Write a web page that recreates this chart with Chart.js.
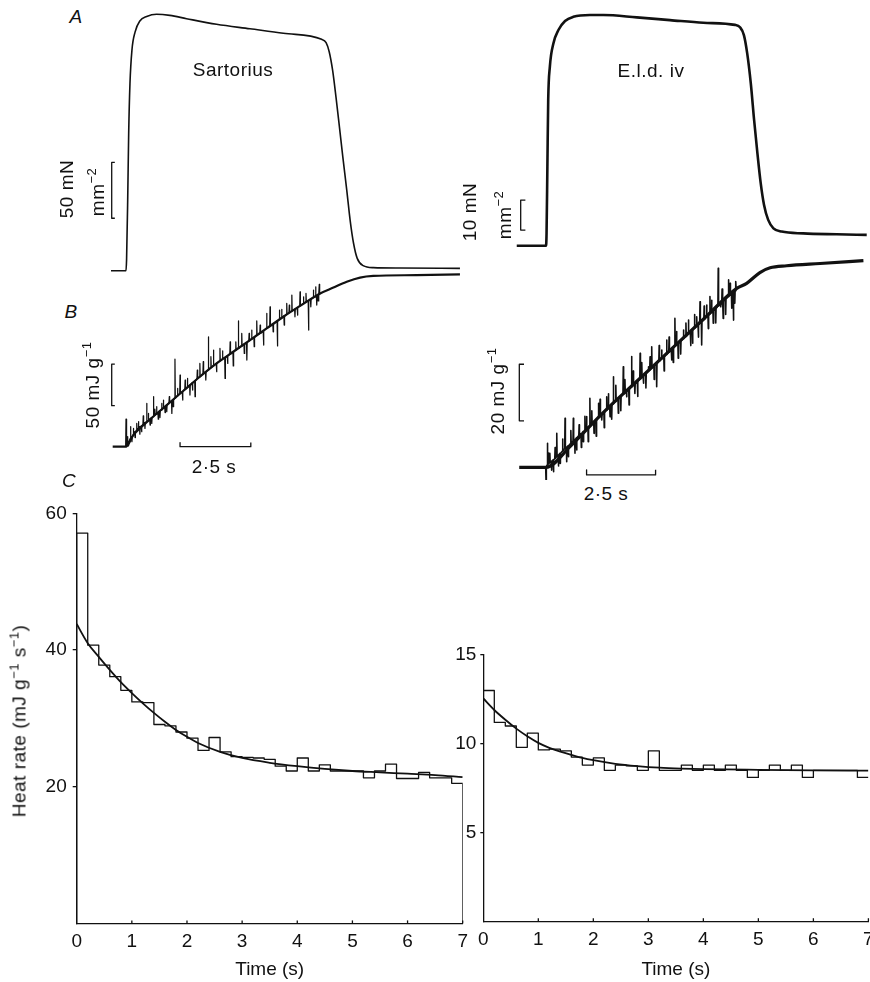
<!DOCTYPE html>
<html><head><meta charset="utf-8">
<script src="https://cdn.jsdelivr.net/npm/chart.js@4.4.0/dist/chart.umd.min.js"></script>
<style>
html,body{margin:0;padding:0;background:#fff;overflow:hidden;width:870px;height:982px;}
#wrap{position:relative;width:870px;height:982px;overflow:hidden;background:#fff;}
canvas{position:absolute;}
.lbl{position:absolute;font-family:"Liberation Sans",Arial,Helvetica,sans-serif;font-size:19px;letter-spacing:0.5px;color:#111;white-space:nowrap;line-height:1;transform:translate(-50%,-50%);}
.rot{transform:translate(-50%,-50%) rotate(-90deg);}
.it{font-style:italic;}
sup{font-size:68%;vertical-align:0.55em;line-height:0;}
</style></head>
<body><div id="wrap">
<canvas id="trL" width="370" height="480" style="left:100px;top:0;width:370px;height:480px"></canvas>
<canvas id="trR" width="390" height="480" style="left:490px;top:0;width:390px;height:480px"></canvas>
<canvas id="cL" width="470" height="492" style="left:0;top:490px;width:470px;height:492px"></canvas>
<canvas id="cR" width="440" height="382" style="left:440px;top:600px;width:440px;height:382px"></canvas>

<div class="lbl it" style="left:76px;top:16px">A</div>
<div class="lbl it" style="left:71px;top:311px">B</div>
<div class="lbl it" style="left:69px;top:480px">C</div>
<div class="lbl" style="left:233px;top:69px">Sartorius</div>
<div class="lbl" style="left:651px;top:70px">E.l.d. iv</div>
<div class="lbl rot" style="left:66px;top:189px">50 mN</div>
<div class="lbl rot" style="left:97px;top:192px">mm<sup>−2</sup></div>
<div class="lbl rot" style="left:469px;top:212px">10 mN</div>
<div class="lbl rot" style="left:504px;top:215px">mm<sup>−2</sup></div>
<div class="lbl rot" style="left:92px;top:385px">50 mJ g<sup>−1</sup></div>
<div class="lbl rot" style="left:497px;top:391px">20 mJ g<sup>−1</sup></div>
<div class="lbl" style="left:214px;top:466px">2·5 s</div>
<div class="lbl" style="left:606px;top:493px">2·5 s</div>
<div class="lbl rot" style="left:19px;top:721px">Heat rate (mJ g<sup>−1</sup> s<sup>−1</sup>)</div>
</div>
<script>
// ---------------- DATA ----------------
// Panel A: force (mN mm^-2) vs time (s) from stimulus onset
const sartForceT = [-0.53,0,0.02,0.06,0.095,0.14,0.21,0.32,0.49,0.73,1.08,1.55,2.14,3.2,4.38,5.56,6.91,7.07,7.18,7.3,7.42,7.54,7.66,7.8,7.92,8.04,8.17,8.38,8.74,9.68,11.8];
const sartForceF = [0,0,9.5,63,123,167,197,213,223,227,229,228,225,220,216,212,206.6,203.6,195.5,179,155,128.6,101.8,72,45,24.5,11,4.5,2.7,2.4,2.1];
const eldForceT = [-1.06,0,0.02,0.05,0.08,0.14,0.27,0.45,0.69,0.99,1.59,2.08,3.29,4.49,5.7,6.85,7.03,7.17,7.29,7.42,7.54,7.66,7.78,7.9,8.05,8.24,8.54,9.32,10.53,11.62];
const eldForceF = [0,0,4.1,26.3,48.6,59.7,67.5,71.9,74.9,76.3,76.9,76.9,76.1,75.2,74.3,73.6,72.8,70.2,64.1,54.1,41.9,30.8,20.8,13.6,8.6,5.8,4.7,4.1,3.8,3.6];

// Panel B: heat (mJ g^-1) vs time (s) – mean trace
const sartHeatT = [-0.47,0,0.26,0.85,1.44,2.02,2.61,3.2,3.79,4.38,4.97,5.56,6.15,6.86,7.33,7.8,8.27,8.74,10.27,11.8];
const sartHeatH = [0,0,14,32.9,50,66.9,84,100,114,128,142,156,169,184,191,198,203,205,206,207];
const eldHeatT = [-0.97,0,0.87,2.08,3.29,4.49,5.7,6.91,7.27,7.75,8.12,8.72,9.93,11.5];
const eldHeatH = [0,0,7.3,19.4,30.4,41.3,52.3,63.2,65,68.8,70.5,71.2,72,73];

// Panel B: noise spikes on the heat trace  [time, trace level, spike tip]
const sartHeatSpikes = [
[0.00,0,33],[0.04,2,12],[0.08,5,1],[0.16,10,24],[0.21,12,6],[0.26,14,22],[0.32,18,11],[0.38,20,28],[0.44,22,30],[0.49,24,15],[0.55,25,18],[0.61,27,37],[0.67,29,22],[0.73,30,52],[0.79,31,40],[0.85,33,26],[0.91,35,28],[0.97,36,60],[1.02,38,45],[1.08,39,48],[1.14,41,33],[1.20,43,35],[1.26,44,52],[1.32,46,56],[1.38,48,41],[1.44,50,42],[1.53,53,60],[1.62,55,40],[1.67,56,48],[1.73,58,105],[1.82,61,70],[1.91,64,86],[2.00,66,56],[2.09,69,80],[2.17,71,82],[2.26,74,62],[2.35,77,68],[2.44,79,60],[2.52,82,92],[2.61,84,100],[2.73,88,102],[2.82,90,80],[2.91,92,132],[3.00,95,108],[3.09,97,116],[3.20,100,90],[3.32,103,118],[3.41,105,115],[3.50,107,82],[3.59,109,100],[3.68,111,126],[3.79,114,97],[3.88,116,126],[3.97,118,151],[4.09,121,136],[4.18,123,112],[4.27,125,104],[4.35,127,136],[4.44,129,140],[4.53,131,120],[4.62,134,151],[4.74,136,146],[4.86,139,122],[4.97,142,160],[5.09,145,168],[5.20,147,138],[5.35,151,121],[5.42,153,164],[5.50,155,165],[5.59,157,146],[5.68,159,172],[5.77,161,170],[5.86,163,182],[5.97,165,156],[6.06,167,158],[6.15,169,186],[6.27,172,180],[6.36,174,184],[6.45,175,140],[6.53,177,168],[6.62,179,188],[6.70,180,192],[6.74,181,170],[6.79,182,175],[6.83,183,195]
];
const eldHeatSpikes = [
[0.00,0.2,-4.5],[0.05,0.8,8.5],[0.09,1.2,5],[0.14,1.6,4.9],[0.20,2.1,-1],[0.27,2.6,-1.6],[0.33,3.1,7],[0.39,3.7,12.0],[0.45,4.3,0.5],[0.51,4.9,1.4],[0.60,5.7,10],[0.69,6.6,17.3],[0.75,7.1,2],[0.81,7.6,3.7],[0.90,8.4,13],[0.99,9.3,17.3],[1.05,9.8,5],[1.11,10.4,6.1],[1.20,11.2,15],[1.28,11.9,7],[1.35,12.6,9.0],[1.41,13.1,18],[1.47,13.6,17.9],[1.53,14.2,9],[1.59,14.8,24.4],[1.66,15.5,20],[1.74,16.1,12.0],[1.82,16.8,11],[1.90,17.5,22.6],[1.96,18.0,24],[2.02,18.6,16.7],[2.11,19.4,14],[2.20,20.2,24.9],[2.26,20.7,26],[2.32,21.3,17.9],[2.38,21.9,17],[2.44,22.5,32.0],[2.53,23.3,29],[2.62,24.1,19.1],[2.71,25.0,20],[2.80,25.8,35.5],[2.86,26.3,31],[2.92,26.9,24.9],[3.01,27.7,22],[3.10,28.5,39.1],[3.16,29.0,34],[3.22,29.5,26.1],[3.32,30.3,25],[3.41,31.2,40.3],[3.47,31.7,37],[3.53,32.3,29.7],[3.62,33.1,28],[3.71,33.9,35.5],[3.77,34.5,39],[3.83,35.1,42.6],[3.92,35.9,31],[4.01,36.7,28.5],[4.10,37.5,43],[4.19,38.3,41.4],[4.28,39.1,34],[4.37,39.9,45.0],[4.46,40.7,46],[4.55,41.6,37.9],[4.61,42.2,37],[4.67,42.8,52.6],[4.73,43.3,48],[4.79,43.8,38.5],[4.88,44.6,40],[4.98,45.4,48.5],[5.07,46.2,51],[5.16,47.1,52.0],[5.24,47.8,43],[5.31,48.5,43.8],[5.38,49.1,54],[5.46,49.8,53.2],[5.52,50.3,46],[5.58,50.9,58.5],[5.64,51.4,43.2],[5.73,52.2,57],[5.82,53.1,57.3],[5.88,53.6,49],[5.94,54.2,60.3],[6.00,54.7,59],[6.06,55.3,50.9],[6.15,56.1,51],[6.24,57.0,70.3],[6.33,57.7,56.7],[6.38,58.2,63],[6.42,58.7,52.6],[6.51,59.5,54],[6.61,60.3,66.2],[6.67,60.8,65],[6.73,61.3,56.2],[6.79,61.8,52.0],[6.84,62.3,58],[6.88,62.8,65.6]
];

// Calibration bars: [time, from, to] (vertical) / [level, fromTime, toTime] (horizontal)
const sartForceBar = [-0.505, 46.8, 96.8];   // 50 mN mm^-2
const sartHeatBar  = [-0.505, 49.2, 99.2];   // 50 mJ g^-1
const sartTimeBar  = [0, 1.91, 4.41];        // 2.5 s
const eldForceBar  = [-0.917, 5.2, 15.2];    // 10 mN mm^-2
const eldHeatBar   = [-0.967, 16.4, 36.4];   // 20 mJ g^-1
const eldTimeBar   = [-2.7, 1.47, 3.97];     // 2.5 s

// Panel C: heat rate (mJ g^-1 s^-1), 0.2 s bins starting at these times
const binStart = [0,0.2,0.4,0.6,0.8,1.0,1.2,1.4,1.6,1.8,2.0,2.2,2.4,2.6,2.8,3.0,3.2,3.4,3.6,3.8,4.0,4.2,4.4,4.6,4.8,5.0,5.2,5.4,5.6,5.8,6.0,6.2,6.4,6.6,6.8];
const binEnd = 7;
const sartRate = [57.1,40.7,37.8,36.1,34.1,32.4,32.3,29.1,28.9,28.0,27.1,25.3,27.2,25.1,24.4,24.3,24.2,24.0,23.0,22.3,24.2,22.3,23.2,22.3,22.3,22.3,21.3,22.3,23.3,21.2,21.2,22.1,21.3,21.3,20.5];
const eldRate  = [13.0,11.2,11.0,9.8,10.6,9.65,9.7,9.6,9.25,8.8,9.2,8.5,8.8,8.75,8.5,9.6,8.5,8.5,8.8,8.5,8.8,8.5,8.8,8.5,8.1,8.5,8.8,8.5,8.8,8.1,8.5,8.5,8.5,8.5,8.1];
const sartFitT = [0,0.2,0.4,0.6,0.8,1.0,1.2,1.4,1.6,1.8,2.0,2.2,2.6,3.0,3.5,4.0,4.5,5.0,5.5,6.0,6.5,7.0];
const sartFitV = [43.8,41.0,39.0,37.1,35.3,33.7,32.2,30.8,29.5,28.3,27.3,26.4,25.1,24.2,23.5,23.0,22.6,22.3,22.1,21.9,21.7,21.4];
const eldFitT = [0,0.2,0.4,0.6,0.8,1.0,1.2,1.4,1.6,1.8,2.0,2.4,2.8,3.2,3.6,4.0,5.0,6.0,7.0];
const eldFitV = [12.55,11.9,11.35,10.85,10.42,10.05,9.77,9.55,9.37,9.2,9.07,8.87,8.74,8.65,8.6,8.57,8.53,8.5,8.48];
const timeTicks = [0,1,2,3,4,5,6,7];
const sartRateTicks = [20,40,60];
const eldRateTicks = [5,10,15];

// ---------------- RENDERING ----------------
const INK = '#111111';
Chart.defaults.font.family = '"Liberation Sans", Arial, Helvetica, sans-serif';
Chart.defaults.font.size = 19;
Chart.defaults.color = INK;

const pts = (t, v) => t.map((x, i) => ({x, y: v[i]}));
function spikeLine(sp) {
  const s = sp.slice().sort((a, b) => a[0] - b[0]);
  const out = [];
  s.forEach(([t, b, tip]) => { out.push({x: t - 0.012, y: b}, {x: t, y: tip}, {x: t + 0.012, y: b}); });
  return out;
}
const vBar = (b, serif) => [{x: b[0] + serif, y: b[2]}, {x: b[0], y: b[2]}, {x: b[0], y: b[1]}, {x: b[0] + serif, y: b[1]}];
const hBar = (b, serif) => [{x: b[1], y: b[0] + serif}, {x: b[1], y: b[0]}, {x: b[2], y: b[0]}, {x: b[2], y: b[0] + serif}];
function ds(data, axis, w, smooth) {
  return {data, yAxisID: axis, borderColor: INK, borderWidth: w, pointRadius: 0, fill: false,
          tension: 0, cubicInterpolationMode: smooth ? 'monotone' : 'default', borderJoinStyle: 'round', borderCapStyle: 'butt'};
}
const baseOpts = {responsive: false, animation: false, devicePixelRatio: 1, events: [],
  plugins: {legend: {display: false}, tooltip: {enabled: false}, title: {display: false}}};

function traceChart(id, xr, fr, hr, force, fw, heat, hw, spikes, sw, fBar, hBarV, tBar, serT, serH) {
  new Chart(document.getElementById(id), {
    type: 'line',
    data: {datasets: [
      ds(force, 'yF', fw, true),
      ds(heat, 'yH', hw, true),
      ds(spikes, 'yH', sw, false),
      ds(vBar(fBar, serT), 'yF', 1.3, false),
      ds(vBar(hBarV, serT), 'yH', 1.3, false),
      ds(hBar(tBar, serH), 'yH', 1.3, false)
    ]},
    options: Object.assign({}, baseOpts, {
      layout: {padding: 0},
      scales: {
        x: {type: 'linear', min: xr[0], max: xr[1], display: false},
        yF: {type: 'linear', min: fr[0], max: fr[1], display: false},
        yH: {type: 'linear', min: hr[0], max: hr[1], display: false}
      }
    })
  });
}
traceChart('trL', [-0.9187, 12.155], [-186.9, 241.7], [-39.98, 536.3],
  pts(sartForceT, sartForceF), 1.6, pts(sartHeatT, sartHeatH), 2.2, spikeLine(sartHeatSpikes), 1.25,
  sartForceBar, sartHeatBar, sartTimeBar, 0.11, 5);
traceChart('trR', [-2.029, 12.101], [-78.1, 81.9], [-4.49, 165.1],
  pts(eldForceT, eldForceF), 2.6, pts(eldHeatT, eldHeatH), 3.2, spikeLine(eldHeatSpikes), 1.6,
  eldForceBar, eldHeatBar, eldTimeBar, 0.17, 1.8);

const inwardTicks = {
  id: 'inwardTicks',
  afterDraw(chart) {
    const {ctx, chartArea, scales: {x}} = chart;
    ctx.save(); ctx.strokeStyle = INK; ctx.lineWidth = 1.3;
    timeTicks.forEach(v => {
      if (v === 0) return;
      const px = x.getPixelForValue(v);
      ctx.beginPath(); ctx.moveTo(px, chartArea.bottom); ctx.lineTo(px, chartArea.bottom - 3); ctx.stroke();
    });
    ctx.restore();
  }
};

function stepData(rates, dropAtEnd) {
  const d = [{x: binStart[0], y: 0}];
  binStart.forEach((t, i) => d.push({x: t, y: rates[i]}));
  d.push({x: binEnd, y: dropAtEnd ? 0 : rates[rates.length - 1]});
  return d;
}
function rateChart(id, rates, drop, fitT, fitV, ymax, yTicks, yWidth, xHeight, pad, tickLen, tickPad) {
  const step = ds(stepData(rates, drop), 'y', 1.3, false);
  step.stepped = 'before';
  new Chart(document.getElementById(id), {
    type: 'line',
    data: {datasets: [step, ds(pts(fitT, fitV), 'y', 1.8, true)]},
    options: Object.assign({}, baseOpts, {
      layout: {padding: pad},
      scales: {
        x: {type: 'linear', min: 0, max: 7,
            afterBuildTicks: s => { s.ticks = timeTicks.map(v => ({value: v})); },
            afterFit: s => { s.height = xHeight; s.paddingLeft = 0; s.paddingRight = 0; },
            grid: {display: false, drawTicks: false},
            border: {display: true, color: INK, width: 1.3},
            ticks: {padding: 7, maxRotation: 0, autoSkip: false, font: {size: 19}},
            title: {display: true, text: 'Time (s)', padding: {top: 0, bottom: 1}, font: {size: 19}}},
        y: {type: 'linear', min: 0, max: ymax,
            afterBuildTicks: s => { s.ticks = yTicks.map(v => ({value: v})); },
            afterFit: s => { s.width = yWidth; s.paddingTop = 0; s.paddingBottom = 0; },
            grid: {display: true, drawOnChartArea: false, drawTicks: true, tickLength: tickLen, lineWidth: 1.3, color: INK},
            border: {display: true, color: INK, width: 1.3},
            ticks: {padding: tickPad, autoSkip: false, font: {size: 19}}}
      }
    }),
    plugins: [inwardTicks]
  });
}
rateChart('cL', sartRate, true, sartFitT, sartFitV, 60, sartRateTicks, 76.7, 58.6, {left: 0, right: 7.3, top: 23.3, bottom: 0}, 4, 6);
rateChart('cR', eldRate, false, eldFitT, eldFitV, 15, eldRateTicks, 43.3, 60.8, {left: 0, right: 11.6, top: 55, bottom: 0}, 3, 4);
</script>
</body></html>
